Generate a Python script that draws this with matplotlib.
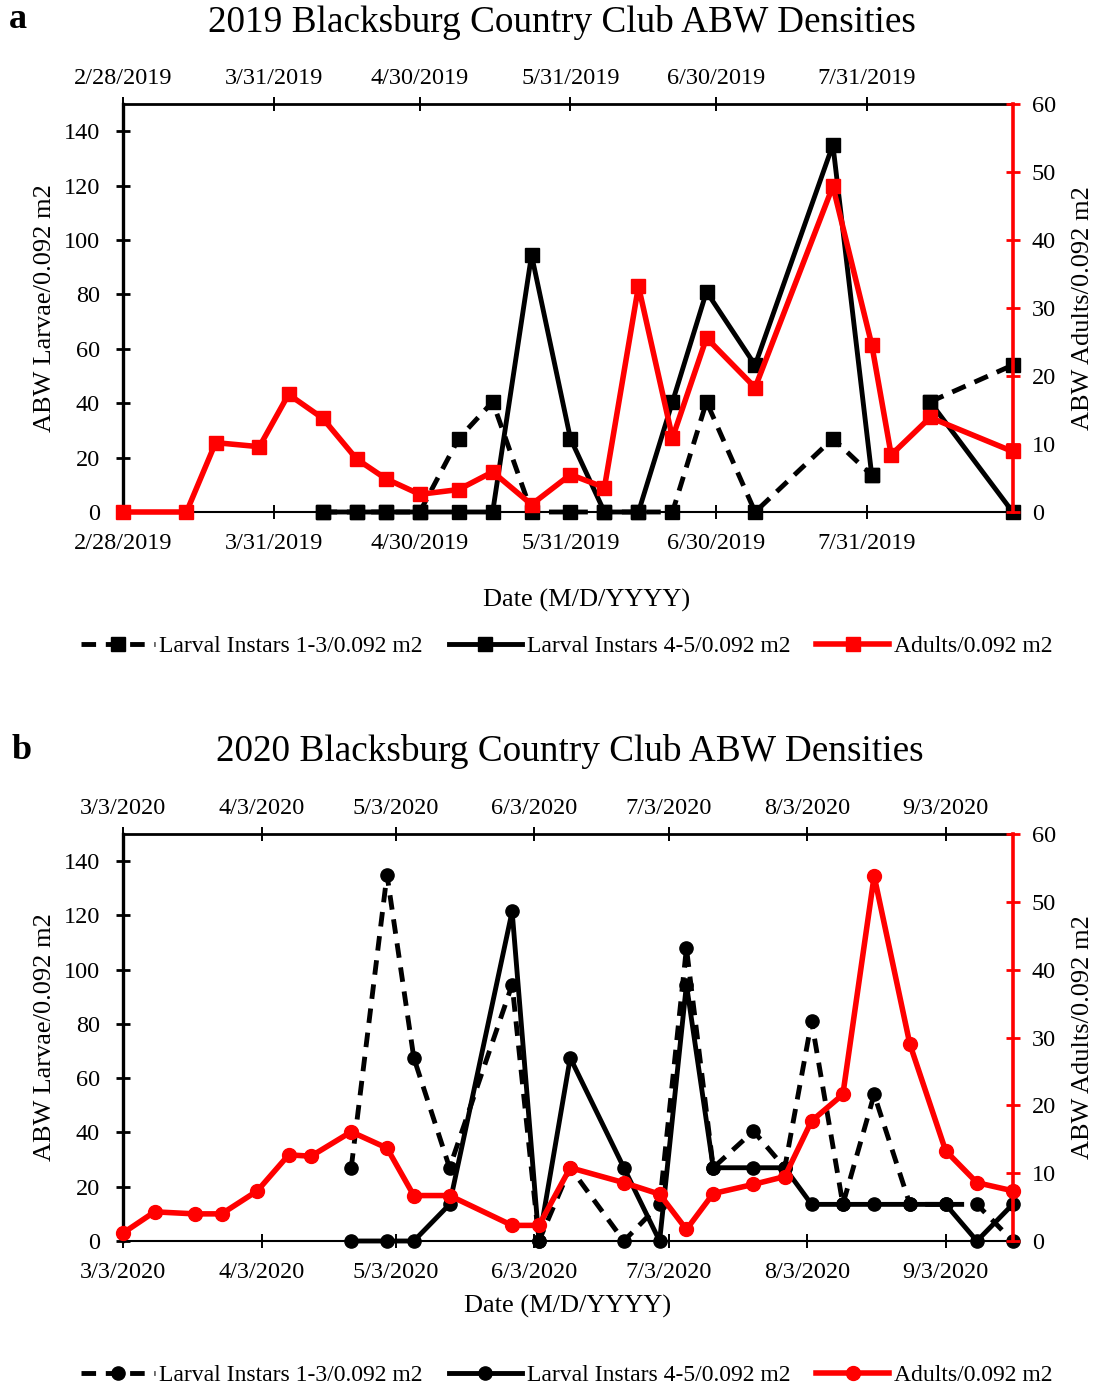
import numpy as np
import pandas as pd
import matplotlib
matplotlib.use("Agg")
import matplotlib.pyplot as plt

plt.rcParams['font.family'] = ['Liberation Serif', 'DejaVu Serif']

nan = np.nan

# ---- 2019 data (values per 0.092 m2) ----
dates_2019 = ["2/28/2019", "3/13/2019", "3/19/2019", "3/28/2019", "4/3/2019", "4/10/2019",
              "4/17/2019", "4/23/2019", "4/30/2019", "5/8/2019", "5/15/2019", "5/23/2019",
              "5/31/2019", "6/7/2019", "6/14/2019", "6/21/2019", "6/28/2019", "7/8/2019",
              "7/24/2019", "8/1/2019", "8/5/2019", "8/13/2019", "8/30/2019"]
larvae13_2019 = [nan, nan, nan, nan, nan, 0, 0, 0, 0, 27, 40.5, 0,
                 0, 0, 0, 0, 40.5, 0, 27, 13.5, nan, 40.5, 54]
larvae45_2019 = [nan, nan, nan, nan, nan, 0, 0, 0, 0, 0, 0, 94.5,
                 27, 0, 0, 40.5, 81, 54, 135, 13.5, nan, 40.5, 0]
adults_2019 = [0, 0, 10.2, 9.6, 17.3, 13.8, 7.8, 4.9, 2.6, 3.3, 5.9, 1.1,
               5.5, 3.6, 33.2, 10.9, 25.6, 18.3, 47.9, 24.6, 8.4, 13.9, 8.9]
ticks_2019 = ["2/28/2019", "3/31/2019", "4/30/2019", "5/31/2019", "6/30/2019", "7/31/2019"]

# ---- 2020 data ----
dates_2020 = ["3/3/2020", "3/10/2020", "3/19/2020", "3/25/2020", "4/2/2020", "4/9/2020",
              "4/14/2020", "4/23/2020", "5/1/2020", "5/7/2020", "5/15/2020", "5/29/2020",
              "6/4/2020", "6/11/2020", "6/23/2020", "7/1/2020", "7/7/2020", "7/13/2020",
              "7/22/2020", "7/29/2020", "8/4/2020", "8/11/2020", "8/18/2020", "8/26/2020",
              "9/3/2020", "9/10/2020", "9/18/2020"]
larvae13_2020 = [nan, nan, nan, nan, nan, nan, nan, 27, 135, 67.5, 27, 94.5,
                 0, 27, 0, 13.5, 108, 27, 40.5, 27, 81, 13.5, 54, 13.5,
                 13.5, 13.5, 0]
larvae45_2020 = [nan, nan, nan, nan, nan, nan, nan, 0, 0, 0, 13.5, 121.5,
                 0, 67.5, 27, 0, 94.5, 27, 27, 27, 13.5, 13.5, 13.5, 13.5,
                 13.5, 0, 13.5]
adults_2020 = [1.2, 4.3, 4.0, 4.0, 7.4, 12.7, 12.5, 16.1, 13.7, 6.7, 6.7, 2.3,
               2.3, 10.8, 8.6, 6.9, 1.7, 7.0, 8.35, 9.5, 17.7, 21.6, 53.8, 29.0,
               13.3, 8.6, 7.4]
ticks_2020 = ["3/3/2020", "4/3/2020", "5/3/2020", "6/3/2020", "7/3/2020", "8/3/2020", "9/3/2020"]

labels = ["Larval Instars 1-3/0.092 m2", "Larval Instars 4-5/0.092 m2", "Adults/0.092 m2"]

W, H = 1096, 1388
fig = plt.figure(figsize=(W / 100, H / 100), dpi=100)


def fx(px):
    return px / W


def fy(py):
    return 1 - py / H


def panel(top, bottom, dates, l13, l45, adults, ticks, marker, msize, title, title_x,
          letter, letter_x, xlabel_x, xlabel_y, legend_y):
    ax = fig.add_axes([fx(123.3), fy(bottom), fx(1012.7) - fx(123.3), fy(top) - fy(bottom)])
    x = pd.to_datetime(dates, format="%m/%d/%Y")
    tk = pd.to_datetime(ticks, format="%m/%d/%Y")

    h1, = ax.plot(x, l13, color='black', lw=3.5, ls=(0, (3, 2)), marker=marker,
                  ms=msize, clip_on=False, zorder=3)
    h2, = ax.plot(x, l45, color='black', lw=3.5, marker=marker, ms=msize,
                  clip_on=False, zorder=2)
    ax.set_xlim(x[0], x[-1])
    ax.set_ylim(0, 150)
    ax.set_yticks(np.arange(0, 141, 20))
    ax.set_xticks(tk)
    ax.set_xticklabels(ticks)
    ax.tick_params(axis='x', direction='inout', length=10, width=1.4, labelsize=17.5,
                   pad=10, top=True, labeltop=True, bottom=True, labelbottom=True)
    ax.tick_params(axis='y', direction='inout', length=9.5, width=2, labelsize=17.5, pad=12)
    ax.spines['left'].set_linewidth(2.4)
    ax.spines['top'].set_linewidth(2.0)
    ax.spines['bottom'].set_linewidth(1.5)
    ax.spines['right'].set_visible(False)
    # top date labels sit a little closer to the axis line than the bottom ones
    for t in ax.xaxis.get_major_ticks():
        t.label2.set_y(1 - 6 / (bottom - top))

    axr = ax.twinx()
    h3, = axr.plot(x, adults, color='#ff0000', lw=4.0, marker=marker, ms=msize + 0.5,
                   clip_on=False, zorder=4)
    axr.set_ylim(0, 60)
    axr.set_yticks(np.arange(0, 61, 10))
    axr.tick_params(axis='y', direction='inout', length=9.5, width=2, colors='#ff0000',
                    labelcolor='black', labelsize=17.5, pad=9)
    for s in ['left', 'top', 'bottom']:
        axr.spines[s].set_visible(False)
    axr.spines['right'].set_color('#ff0000')
    axr.spines['right'].set_linewidth(2.6)

    mid = (top + bottom) / 2
    fig.text(fx(45), fy(mid), "ABW Larvae/0.092 m2", rotation=90, ha='center', va='center',
             fontsize=19)
    fig.text(fx(1083), fy(mid), "ABW Adults/0.092 m2", rotation=90, ha='center', va='center',
             fontsize=19)
    fig.text(fx(xlabel_x), fy(xlabel_y), "Date (M/D/YYYY)", ha='center', va='center',
             fontsize=19)
    fig.text(fx(title_x), fy(top - 82), title, ha='center', va='center', fontsize=26.8)
    fig.text(fx(letter_x), fy(top - 84), letter, ha='center', va='center', fontsize=26,
             fontweight='bold')

    fig.legend([h1, h2, h3], labels, loc='center', bbox_to_anchor=(fx(567), fy(legend_y)),
               ncol=3, frameon=False, fontsize=17, handlelength=3.1, handletextpad=0.2,
               columnspacing=1.1, borderaxespad=0, numpoints=1)


panel(104, 512, dates_2019, larvae13_2019, larvae45_2019, adults_2019, ticks_2019, 's', 10,
      "2019 Blacksburg Country Club ABW Densities", 561.5, "a", 18, 587, 600, 646)
panel(834, 1241, dates_2020, larvae13_2020, larvae45_2020, adults_2020, ticks_2020, 'o', 9.5,
      "2020 Blacksburg Country Club ABW Densities", 569.5, "b", 22, 568, 1306, 1375)

fig.savefig("out.png", dpi=100)
